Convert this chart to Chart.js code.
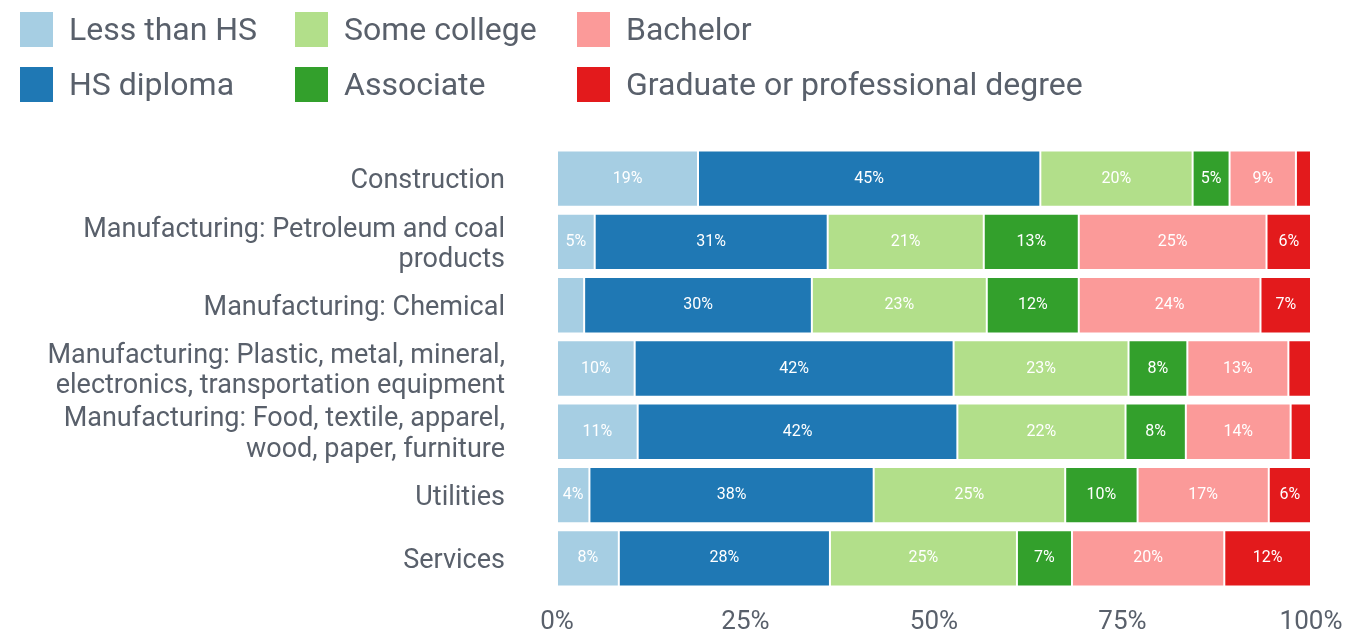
<!DOCTYPE html>
<html>
<head>
<meta charset="utf-8">
<script src="https://cdn.jsdelivr.net/npm/chart.js@4.4.0/dist/chart.umd.min.js"></script>
<style>
  body { margin: 0; background: #fff; font-family: Roboto, sans-serif; }
  #wrap { position: relative; width: 1368px; height: 631px; }
  #legend { position: absolute; left: 0; top: 0; width: 1368px; height: 110px; }
  .item { position: absolute; display: flex; align-items: center; color: #59606b; font-size: 32px; white-space: nowrap; }
  .box { width: 33px; height: 35px; margin-right: 16px; }
  canvas { position: absolute; left: 0; top: 0; }
</style>
</head>
<body>
<div id="wrap">
  <canvas id="myChart" width="1368" height="631"></canvas>
  <div id="legend"></div>
</div>
<script>
const categories = [
  'Construction',
  ['Manufacturing: Petroleum and coal', 'products'],
  'Manufacturing: Chemical',
  ['Manufacturing: Plastic, metal, mineral,', 'electronics, transportation equipment'],
  ['Manufacturing: Food, textile, apparel,', 'wood, paper, furniture'],
  'Utilities',
  'Services'
];

const seriesNames = ['Less than HS', 'HS diploma', 'Some college', 'Associate', 'Bachelor', 'Graduate or professional degree'];
const seriesColors = ['#a6cee3', '#1f78b4', '#b2df8a', '#33a02c', '#fb9a99', '#e31a1c'];

// shares (%) per category, one array per education level
const lessThanHS = [18.7, 5.0, 3.6, 10.3, 10.7, 4.3, 8.2];
const hsDiploma = [45.4, 30.9, 30.2, 42.3, 42.4, 37.7, 28.0];
const someCollege = [20.2, 20.7, 23.2, 23.2, 22.3, 25.4, 24.8];
const associate = [4.9, 12.6, 12.2, 7.8, 8.0, 9.6, 7.3];
const bachelor = [8.8, 24.9, 24.1, 13.4, 13.9, 17.4, 20.2];
const graduate = [2.0, 5.9, 6.7, 3.0, 2.7, 5.6, 11.5];

const xTicks = [0, 25, 50, 75, 100];

const seriesData = [lessThanHS, hsDiploma, someCollege, associate, bachelor, graduate];

// legend laid out in columns like the original
const legendPos = [[20, 10], [20, 65], [295, 10], [295, 65], [577, 10], [577, 65]];
const legendEl = document.getElementById('legend');
seriesNames.forEach((name, i) => {
  const d = document.createElement('div');
  d.className = 'item';
  d.style.left = legendPos[i][0] + 'px';
  d.style.top = legendPos[i][1] + 'px';
  d.innerHTML = '<span class="box" style="background:' + seriesColors[i] + '"></span><span>' + name + '</span>';
  legendEl.appendChild(d);
});

// value labels inside the bars
const barLabels = {
  id: 'barLabels',
  afterDatasetsDraw(chart) {
    const ctx = chart.ctx;
    ctx.save();
    ctx.fillStyle = '#ffffff';
    ctx.font = '16px Roboto';
    ctx.textAlign = 'center';
    ctx.textBaseline = 'middle';
    chart.data.datasets.forEach((ds, i) => {
      chart.getDatasetMeta(i).data.forEach((bar, j) => {
        const v = ds.data[j];
        if (v < 4) return;
        const p = bar.getProps(['x', 'base', 'y'], true);
        ctx.fillText(Math.round(v) + '%', (p.x + p.base) / 2, p.y);
      });
    });
    ctx.restore();
  }
};

new Chart(document.getElementById('myChart'), {
  type: 'bar',
  data: {
    labels: categories,
    datasets: seriesData.map((data, i) => ({
      label: seriesNames[i],
      data: data,
      backgroundColor: seriesColors[i],
      borderColor: 'rgba(255,255,255,0.6)',
      borderWidth: 1,
      borderSkipped: false,
      barPercentage: 0.89,
      categoryPercentage: 1
    }))
  },
  options: {
    indexAxis: 'y',
    responsive: false,
    animation: false,
    layout: { padding: { top: 147, right: 57, bottom: 0, left: 0 } },
    plugins: {
      legend: { display: false },
      tooltip: { enabled: false }
    },
    scales: {
      x: {
        stacked: true,
        min: 0,
        max: 100,
        afterBuildTicks: (scale) => { scale.ticks = xTicks.map(v => ({ value: v })); },
        grid: { display: false },
        border: { display: false },
        ticks: {
          color: '#59606b',
          font: { family: 'Roboto', size: 26 },
          padding: 9,
          callback: (v) => v + '%'
        },
        afterFit: (scale) => { scale.height = 41; }
      },
      y: {
        stacked: true,
        grid: { display: false },
        border: { display: false },
        ticks: {
          color: '#59606b',
          font: { family: 'Roboto', size: 27, lineHeight: 1.12 },
          padding: 44,
          labelOffset: 3,
          autoSkip: false
        },
        afterFit: (scale) => {
          scale.width = 557;
          scale.paddingTop = 0;
          scale.paddingBottom = 0;
        }
      }
    }
  },
  plugins: [barLabels]
});
</script>
</body>
</html>
